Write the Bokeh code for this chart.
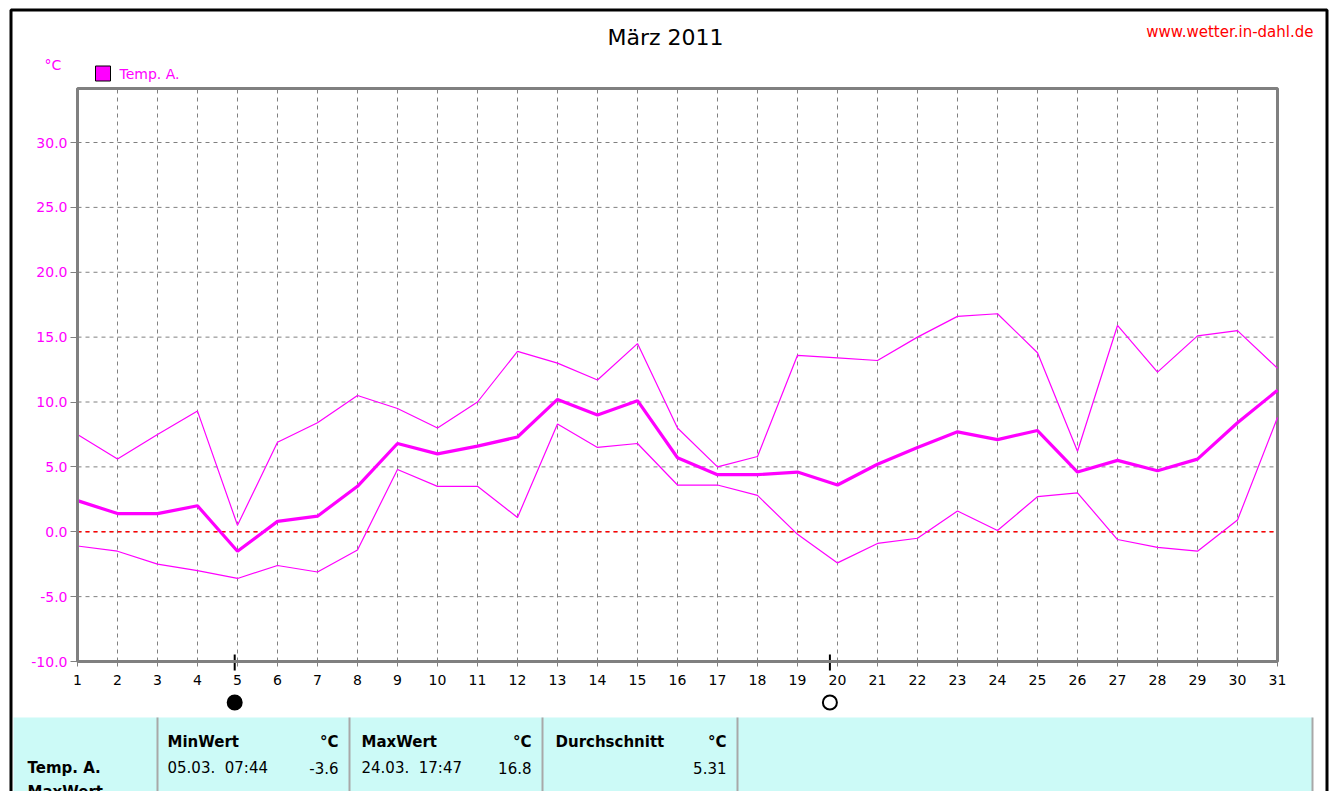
from bokeh.plotting import figure
from bokeh.models import (Range1d, PrintfTickFormatter, Label, BoxAnnotation, LinearAxis,
                          FixedTicker)
from bokeh.embed import file_html
from bokeh.resources import INLINE

# ---------------- data ----------------
days = list(range(1, 32))
t_max = [7.5, 5.6, 7.5, 9.3, 0.5, 6.9, 8.4, 10.5, 9.5, 8.0, 10.0, 13.9, 13.0, 11.7, 14.5, 8.0,
         5.0, 5.8, 13.6, 13.4, 13.2, 15.0, 16.6, 16.8, 13.8, 6.2, 15.9, 12.3, 15.1, 15.5, 12.6]
t_mean = [2.4, 1.4, 1.4, 2.0, -1.5, 0.8, 1.2, 3.5, 6.8, 6.0, 6.6, 7.3, 10.2, 9.0, 10.1, 5.7,
          4.4, 4.4, 4.6, 3.6, 5.2, 6.5, 7.7, 7.1, 7.8, 4.6, 5.5, 4.7, 5.6, 8.4, 10.9]
t_min = [-1.1, -1.5, -2.5, -3.0, -3.6, -2.6, -3.1, -1.4, 4.8, 3.5, 3.5, 1.1, 8.3, 6.5, 6.8, 3.6,
         3.6, 2.8, -0.2, -2.4, -0.9, -0.5, 1.6, 0.1, 2.7, 3.0, -0.6, -1.2, -1.5, 0.9, 8.8]
y_ticks = [-10, -5, 0, 5, 10, 15, 20, 25, 30]
moon_days = [4.93, 19.81]
moon_full = [False, True]

title_text = "März 2011"
site_text = "www.wetter.in-dahl.de"
unit_text = "°C"
series_name = "Temp. A."
row_labels = ["Temp. A.", "MaxWert"]
table_headers = ["MinWert", "MaxWert", "Durchschnitt"]
table_times = ["05.03.\u00a0 07:44", "24.03.\u00a0 17:47", ""]
table_values = ["-3.6", "16.8", "5.31"]

# ---------------- geometry (page pixels) ----------------
W, H = 1333, 791
X_LEFT_PX, X_RIGHT_PX = 77, 1277
Y_BOT_PX, Y_TOP_PX, Y30_PX = 661, 88, 142
day_first, day_last = days[0], days[-1]
y_low, y_high = y_ticks[0], y_ticks[-1]
KX = (X_RIGHT_PX - X_LEFT_PX) / (day_last - day_first)
KY = (Y_BOT_PX - Y30_PX) / (y_high - y_low)


def dx(px):
    return day_first + (px - X_LEFT_PX) / KX


def dy(py):
    return y_low + (Y_BOT_PX - py) / KY


def sy(py):
    return H - py


def sbox(left, right, top, bottom, **kw):
    return BoxAnnotation(left=left, right=right, top=sy(top), bottom=sy(bottom),
                         left_units="screen", right_units="screen",
                         top_units="screen", bottom_units="screen", **kw)


y_top = dy(Y_TOP_PX)

MAG = "#FF00FF"
GRAY = "#808080"
FONT = "DejaVu Sans"

p = figure(width=W, height=H, output_backend="svg", toolbar_location=None, title=None,
           x_range=Range1d(dx(0), dx(W)), y_range=Range1d(dy(H), dy(0)),
           x_axis_location=None, y_axis_location=None,
           min_border=0, min_border_left=0, min_border_right=0,
           min_border_top=0, min_border_bottom=0,
           background_fill_color="white", border_fill_color="white")
p.outline_line_color = None
p.grid.visible = False

# grid
p.segment(x0=days, x1=days, y0=[y_low] * len(days), y1=[y_top] * len(days),
          line_color=GRAY, line_dash="4 4", line_width=1)
p.segment(x0=[day_first] * len(y_ticks), x1=[day_last] * len(y_ticks), y0=y_ticks, y1=y_ticks,
          line_color=GRAY, line_dash="4 4", line_width=1)
# zero line
p.segment(x0=[day_first], x1=[day_last], y0=[0], y1=[0],
          line_color="#FF0000", line_dash="4 4", line_width=1.3)
# chart box
p.quad(left=[day_first], right=[day_last], bottom=[y_low], top=[y_top],
       fill_color=None, line_color=GRAY, line_width=3)

# data lines
p.line(days, t_max, line_color=MAG, line_width=1.2)
p.line(days, t_min, line_color=MAG, line_width=1.2)
p.line(days, t_mean, line_color=MAG, line_width=3.2)

# axes
yax = LinearAxis(fixed_location=day_first, ticker=FixedTicker(ticks=y_ticks),
                 formatter=PrintfTickFormatter(format="%.1f"), bounds=(y_low, y_top))
xax = LinearAxis(fixed_location=y_low, ticker=FixedTicker(ticks=days),
                 bounds=(day_first, day_last))
for ax in (xax, yax):
    ax.axis_line_color = GRAY
    ax.axis_line_width = 3
    ax.major_tick_line_color = GRAY
    ax.major_tick_in = 0
    ax.minor_tick_line_color = None
    ax.major_label_text_font = FONT
    ax.major_label_text_font_size = "14px"
xax.major_tick_out = 5
xax.major_label_standoff = 8
xax.major_label_text_color = "black"
yax.major_tick_out = 7
yax.major_label_standoff = 3
yax.major_label_text_color = MAG
p.add_layout(yax, "left")
p.add_layout(xax, "below")

# moon phase markers
p.segment(x0=moon_days, x1=moon_days, y0=[dy(654)] * 2, y1=[dy(670)] * 2,
          line_color="black", line_width=2)
p.scatter(moon_days, [dy(702)] * 2, marker="circle", size=14, line_color="black", line_width=2,
          fill_color=["white" if f else "black" for f in moon_full])

# header texts
p.add_layout(Label(x=665, y=sy(37), x_units="screen", y_units="screen", text=title_text,
                   text_align="center", text_baseline="middle", text_font=FONT,
                   text_font_size="22px", text_color="black"))
p.add_layout(Label(x=1313, y=sy(31), x_units="screen", y_units="screen", text=site_text,
                   text_align="right", text_baseline="middle", text_font=FONT,
                   text_font_size="15px", text_color="#FF0000"))
p.add_layout(Label(x=44, y=sy(64), x_units="screen", y_units="screen", text=unit_text,
                   text_align="left", text_baseline="middle", text_font=FONT,
                   text_font_size="14px", text_color=MAG))

# legend (square swatch + label)
p.add_layout(sbox(95, 110, 65.5, 80.5, fill_color=MAG, fill_alpha=1,
                  line_color="black", line_alpha=1, line_width=1))
p.add_layout(Label(x=119, y=sy(73), x_units="screen", y_units="screen", text=series_name,
                   text_align="left", text_baseline="middle", text_font=FONT,
                   text_font_size="14px", text_color=MAG))

# table
p.add_layout(sbox(13, 1312, 717, 820, fill_color="#CCFAF7", fill_alpha=1, line_color=None))
for xd in (157, 349, 542, 737, 1312):
    p.add_layout(sbox(xd - 1, xd + 1, 717, 820, fill_color="#A8A8A8", fill_alpha=1,
                      line_color=None))

for i, rl in enumerate(row_labels):
    p.add_layout(Label(x=27, y=sy(767 + 24 * i), x_units="screen", y_units="screen",
                       text=rl, text_align="left", text_baseline="middle", text_font=FONT,
                       text_font_size="15px", text_font_style="bold", text_color="black"))

col_left = [167, 361, 555]
col_right = [338, 531, 726]
for h, tm, v, xl, xr in zip(table_headers, table_times, table_values, col_left, col_right):
    p.add_layout(Label(x=xl, y=sy(741), x_units="screen", y_units="screen", text=h,
                       text_align="left", text_baseline="middle", text_font=FONT,
                       text_font_size="15px", text_font_style="bold", text_color="black"))
    p.add_layout(Label(x=xr, y=sy(741), x_units="screen", y_units="screen", text=unit_text,
                       text_align="right", text_baseline="middle", text_font=FONT,
                       text_font_size="15px", text_font_style="bold", text_color="black"))
    if tm:
        p.add_layout(Label(x=xl, y=sy(767), x_units="screen", y_units="screen", text=tm,
                           text_align="left", text_baseline="middle", text_font=FONT,
                           text_font_size="15px", text_color="black"))
    p.add_layout(Label(x=xr, y=sy(767), x_units="screen", y_units="screen", text=v,
                       text_align="right", text_baseline="middle", text_font=FONT,
                       text_font_size="15px", text_color="black"))

# outer frame
p.add_layout(sbox(10.5, 1326.5, 9.5, 830, fill_color=None, fill_alpha=0,
                  line_color="black", line_alpha=1, line_width=3))

open("out.html", "w").write(file_html(p, INLINE))
